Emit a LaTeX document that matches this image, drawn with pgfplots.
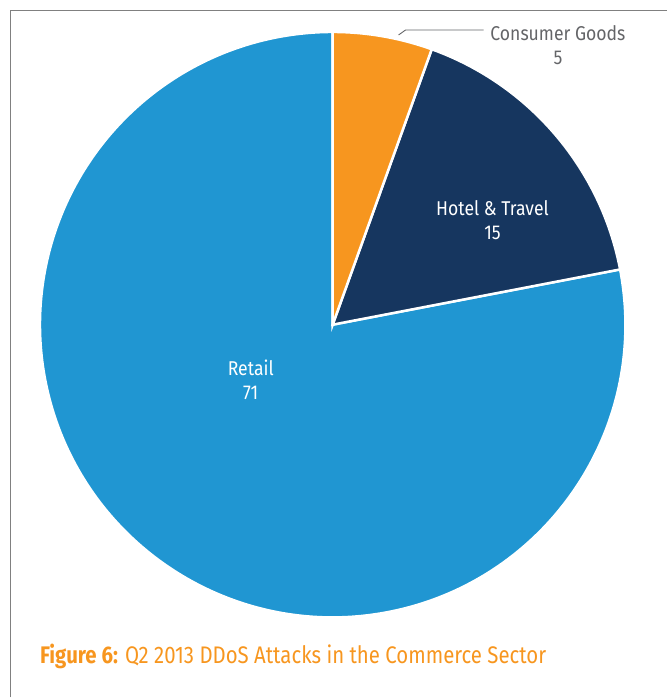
\documentclass[border=0pt]{standalone}
\usepackage{pgfplots}
\usepackage{pgfplotstable}
\pgfplotsset{compat=1.18}
\usepackage{fontspec}
\setmainfont{Fira Sans}[FakeStretch=0.85]
\newfontfamily\labfont{Fira Sans}[FakeStretch=0.88]
\definecolor{cgood}{HTML}{F7961F}
\definecolor{chotel}{HTML}{16365F}
\definecolor{cretail}{HTML}{2096D2}
\definecolor{labgray}{HTML}{646568}
\definecolor{framegray}{HTML}{808080}
\definecolor{capor}{HTML}{F7961F}

\pgfplotstableread{
label value
Consumer 5
Hotel 15
Retail 71
}\piedata

\begin{document}
\begin{tikzpicture}
\pgfplotstablegetelem{0}{value}\of\piedata \edef\va{\pgfplotsretval}
\pgfplotstablegetelem{1}{value}\of\piedata \edef\vb{\pgfplotsretval}
\pgfplotstablegetelem{2}{value}\of\piedata \edef\vc{\pgfplotsretval}
\pgfmathsetmacro\tot{\va+\vb+\vc}
\pgfmathsetmacro\aA{90}
\pgfmathsetmacro\aB{90-360*\va/\tot}
\pgfmathsetmacro\aC{\aB-360*\vb/\tot}
\pgfmathsetmacro\aD{90-360}
\begin{axis}[
  width=668bp, height=698bp, scale only axis,
  xmin=0, xmax=668, ymin=0, ymax=698,
  hide axis, clip=false,
]
\path (axis cs:0,0) rectangle (axis cs:668,698);
% frame
\draw[framegray, line width=1.4bp] (axis cs:10.5,0) -- (axis cs:10.5,687.5) -- (axis cs:668,687.5);
% slices
\fill[cretail, draw=white, line width=2.5bp, line join=miter]
  (axis cs:333,373) -- ++(\aC:293bp) arc[start angle=\aC, end angle=\aD, radius=293bp] -- cycle;
\fill[chotel, draw=white, line width=2.5bp, line join=miter]
  (axis cs:333,373) -- ++(\aB:293bp) arc[start angle=\aB, end angle=\aC, radius=293bp] -- cycle;
\fill[cgood, draw=white, line width=2.5bp, line join=miter]
  (axis cs:333,373) -- ++(\aA:293bp) arc[start angle=\aA, end angle=\aB, radius=293bp] -- cycle;
% leader
\draw[labgray, line width=0.9bp] (axis cs:399,663) -- (axis cs:406,668) -- (axis cs:484,668);
% labels
\node[labgray, align=center, font=\labfont\fontsize{20bp}{24bp}\selectfont, inner sep=0pt] at (axis cs:558.5,653) {Consumer Goods\\5};
\node[white, align=center, font=\labfont\fontsize{20bp}{24bp}\selectfont, inner sep=0pt] at (axis cs:493,478) {Hotel \& Travel\\15};
\node[white, align=center, font=\labfont\fontsize{20bp}{24bp}\selectfont, inner sep=0pt] at (axis cs:251,318) {Retail\\71};
% caption
\node[capor, anchor=base west, inner sep=0pt, font=\fontsize{24bp}{28bp}\selectfont] at (axis cs:40,34) {\textbf{Figure 6:} Q2 2013 DDoS Attacks in the Commerce Sector};
\end{axis}
\end{tikzpicture}
\end{document}
